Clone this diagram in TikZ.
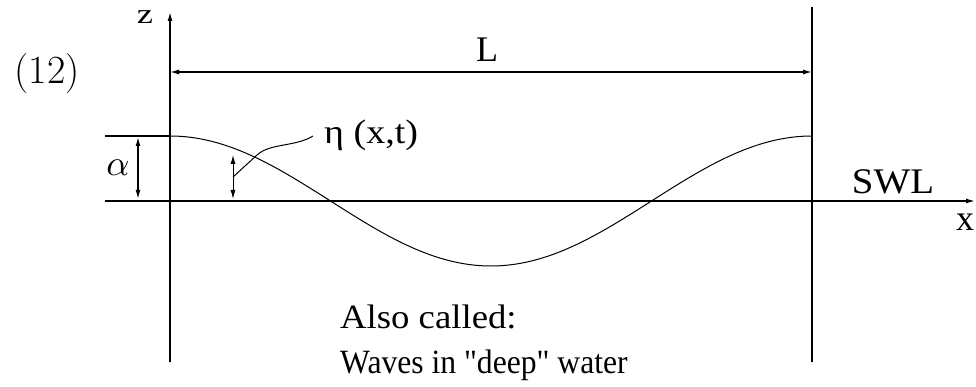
\documentclass[tikz,border=0pt]{standalone}
\usepackage{fontspec}
\setmainfont{Liberation Serif}[Ligatures=TeXOff]
\newfontfamily\lmfont{Latin Modern Roman}
\usetikzlibrary{arrows.meta}
\tikzset{
  ln/.style={line width=1.4pt, draw=black},
  tip/.style={-{Latex[length=9pt,width=5pt]}},
  dtip/.style={{Latex[length=9pt,width=5pt]}-{Latex[length=9pt,width=5pt]}},
  thin line/.style={line width=1pt},
  lbl/.style={inner sep=0pt, font=\fontsize{36}{40}\selectfont},
}
\begin{document}
\begin{tikzpicture}[x=1pt,y=-1pt]
\useasboundingbox (0,0) rectangle (976,387);
% coordinates
\coordinate (zb) at (170,362);
\coordinate (zt) at (170,12);
\coordinate (rt) at (812,7);
\coordinate (rb) at (812,362);
\coordinate (cl) at (105,136);
\coordinate (cr) at (170,136);
\coordinate (sl) at (105,201);
\coordinate (sr) at (975,201);
\coordinate (La) at (170,72);
\coordinate (Lb) at (812,72);
\coordinate (aa) at (138,137);
\coordinate (ab) at (138,199);
\coordinate (ea) at (233,155);
\coordinate (eb) at (233,199);
\coordinate (l0) at (233,177);
\coordinate (l1) at (257,155);
\coordinate (l2) at (313,136);
% axes and lines
\draw[ln,tip] (zb) -- (zt);
\draw[ln] (rt) -- (rb);
\draw[ln] (cl) -- (cr);
\draw[ln,tip] (sl) -- (sr);
\draw[ln,dtip] (La) -- (Lb);
\draw[ln,dtip] (aa) -- (ab);
\draw[thin line,dtip] (ea) -- (eb);
% wave
\draw[thin line] plot[domain=170:812, samples=120, smooth] (\x, {201-65*cos(0.560748*(\x-170))});
% leader
\draw[thin line] (l0) -- (l1) .. controls (270,143) and (295,147) .. (l2);
% labels
\node[inner sep=0pt, font=\lmfont\fontsize{40}{42}\selectfont] (num) at (47,74) {(12)};
\node[inner sep=0pt, font=\fontsize{28}{30}\selectfont] (zl) at (145,17) {\scalebox{1.3}[1]{z}};
\node[lbl] (Ll) at (487,50) {L};
\node[lbl, anchor=west, font=\fontsize{34}{36}\selectfont] (eta) at (324,135) {\scalebox{1.12}[1]{η (x,t)}};
\node[inner sep=0pt] (al) at (118,168) {\scalebox{3.6}{$\alpha$}};
\node[lbl] (swl) at (893,182) {\scalebox{1.08}[1]{SWL}};
\node[lbl] (xl) at (965,222) {x};
\node[lbl, anchor=base west, font=\fontsize{34}{36}\selectfont] (t1) at (340,328) {\scalebox{1.08}[1]{Also called:}};
\node[lbl, anchor=base west, font=\fontsize{34}{36}\selectfont] (t2) at (340,373) {\scalebox{0.93}[1]{Waves in "deep" water}};
\end{tikzpicture}
\end{document}
